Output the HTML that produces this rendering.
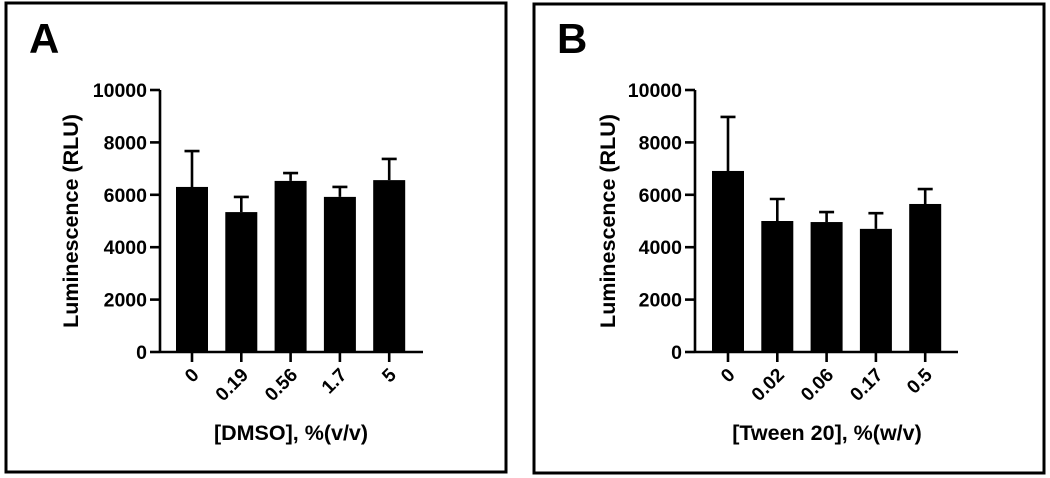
<!DOCTYPE html>
<html><head><meta charset="utf-8"><style>
html,body{margin:0;padding:0;background:#fff}
svg{display:block;font-family:"Liberation Sans",Arial,sans-serif;font-weight:bold}
</style></head><body>
<svg id="fig" width="1050" height="478" viewBox="0 0 1050 478"></svg>
<script>
const catsA = ["0","0.19","0.56","1.7","5"];
const meanA = [6300, 5340, 6530, 5920, 6560];
const errA  = [7670, 5920, 6830, 6300, 7370];
const catsB = ["0","0.02","0.06","0.17","0.5"];
const meanB = [6910, 5000, 4960, 4700, 5650];
const errB  = [8970, 5840, 5340, 5300, 6220];
const yTicks = [0, 2000, 4000, 6000, 8000, 10000];

const NS = "http://www.w3.org/2000/svg";
const svg = document.getElementById("fig");
function mk(tag, attrs, parent){
  const e = document.createElementNS(NS, tag);
  for (const k in attrs) e.setAttribute(k, attrs[k]);
  (parent||svg).appendChild(e);
  return e;
}
function panel(o){
  const g = mk("g", {});
  
  
  const fr = mk("rect", {x:o.bx, y:o.by, width:o.bw, height:o.bh, fill:"none", stroke:"#000", "stroke-width":3}, g);
  
  
  const L = mk("text", {x:o.bx+23, y:53, "font-size":42}, g);
  L.textContent = o.letter;
  
  
  const y0 = 352, y1 = 90, vmax = 10000;
  const ys = v => y0 - (v / vmax) * (y0 - y1);
  const xs = i => o.x0 + i * o.step;
  o.means.forEach((m, i) => {
    const b = mk("rect", {x:xs(i)-16, y:ys(m), width:32, height:y0-ys(m), fill:"#000"}, g);
    
    
    const e = mk("path", {d:`M${xs(i)} ${ys(m)} V${ys(o.errs[i])} M${xs(i)-7.5} ${ys(o.errs[i])} H${xs(i)+7.5}`, stroke:"#000", "stroke-width":2.6, fill:"none"}, g);
    
    
  });
  const ax = mk("path", {d:`M${o.ax} ${y1} V${y0} M${o.ax} ${y0} H${o.axEnd}`, stroke:"#000", "stroke-width":2.6, fill:"none"}, g);
  
  
  yTicks.forEach(t => {
    const tk = mk("path", {d:`M${o.ax-10} ${ys(t)} H${o.ax}`, stroke:"#000", "stroke-width":2.6}, g);
    
    
    const tl = mk("text", {x:o.ax-13, y:ys(t)+7, "font-size":19.5, "text-anchor":"end"}, g);
    tl.textContent = t;
    
    
  });
  o.cats.forEach((c, i) => {
    const tk = mk("path", {d:`M${xs(i)} ${y0} V${y0+10}`, stroke:"#000", "stroke-width":2.6}, g);
    
    
    const tx = xs(i)+8, ty = 376;
    const tl = mk("text", {x:tx, y:ty, "font-size":19, "text-anchor":"end", transform:`rotate(-45 ${tx} ${ty})`}, g);
    tl.textContent = c;
    
    
  });
  const yt = mk("text", {x:o.ytX, y:221, "font-size":21.5, "text-anchor":"middle", transform:`rotate(-90 ${o.ytX} 221)`}, g);
  yt.textContent = "Luminescence (RLU)";
  
  
  const xt = mk("text", {x:o.xtX, y:440, "font-size":21.5, "text-anchor":"middle"}, g);
  xt.textContent = o.xtitle;
  
  
}
panel({letter:"A", bx:6, by:3, bw:500, bh:469, cats:catsA, means:meanA, errs:errA,
  x0:192, step:49.3, ax:160, axEnd:423, ytX:78, xtX:291, xtitle:"[DMSO], %(v/v)"});
panel({letter:"B", bx:534, by:4, bw:510, bh:469, cats:catsB, means:meanB, errs:errB,
  x0:728, step:49.3, ax:695, axEnd:958, ytX:615, xtX:827, xtitle:"[Tween 20], %(w/v)"});
</script>
</body></html>
